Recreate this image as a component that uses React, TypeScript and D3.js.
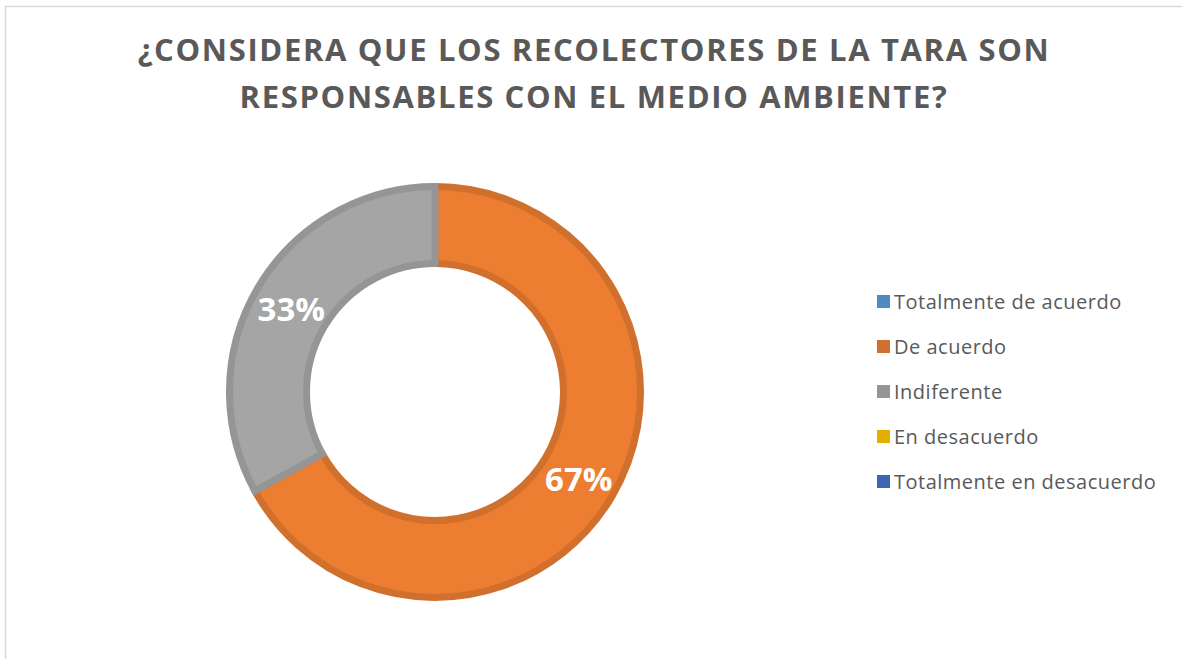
import React, { useEffect, useRef } from 'react';
import { select, pie, arc, scaleOrdinal, scalePoint } from 'd3';

// answers and share of respondents (%)
const categories = [
  'Totalmente de acuerdo',
  'De acuerdo',
  'Indiferente',
  'En desacuerdo',
  'Totalmente en desacuerdo',
];
const values = [0, 67, 33, 0, 0];
const fills = ['#5B9BD5', '#ED7D31', '#A5A5A5', '#FFC000', '#4472C4'];
const strokes = ['#4F8BC2', '#D0702C', '#959595', '#E6AE00', '#3E66B0'];
const titleLines = [
  '¿CONSIDERA QUE LOS RECOLECTORES DE LA TARA SON',
  'RESPONSABLES CON EL MEDIO AMBIENTE?',
];

const W = 1182;
const H = 659;
const FONT = "'Open Sans', 'DejaVu Sans', sans-serif";

const App = () => {
  const svgRef = useRef<SVGSVGElement>(null);

  useEffect(() => {
    const svg = select(svgRef.current);
    svg.selectAll('*').remove();

    svg.append('rect')
      .attr('x', 0).attr('y', 0).attr('width', W).attr('height', H)
      .attr('fill', '#fff');

    // chart frame
    svg.append('rect')
      .attr('x', 5.5).attr('y', 6.5)
      .attr('width', W + 20).attr('height', H + 20)
      .attr('fill', 'none')
      .attr('stroke', '#D9D9D9')
      .attr('stroke-width', 1.5);

    // title
    svg.append('g')
      .selectAll('text')
      .data(titleLines)
      .join('text')
      .attr('x', 594)
      .attr('y', (d, i) => 61 + i * 47)
      .attr('text-anchor', 'middle')
      .attr('font-family', FONT)
      .attr('font-weight', 700)
      .attr('font-size', 31)
      .attr('letter-spacing', 1.65)
      .attr('fill', '#595959')
      .text(d => d);

    const color = scaleOrdinal<string, string>().domain(categories).range(fills);
    const strokeColor = scaleOrdinal<string, string>().domain(categories).range(strokes);

    const cx = 435;
    const cy = 392;
    const outerR = 209;
    const innerR = 125;
    const sw = 7;

    const pieGen = pie<number>().sort(null).value(d => d);
    const arcs = pieGen(values);
    const arcGen = arc<any>()
      .innerRadius(innerR + sw / 2)
      .outerRadius(outerR - sw / 2);
    const labelArc = arc<any>().innerRadius(innerR).outerRadius(outerR);

    const g = svg.append('g').attr('transform', `translate(${cx},${cy})`);
    g.selectAll('path')
      .data(arcs.filter(a => a.value > 0))
      .join('path')
      .attr('d', arcGen)
      .attr('fill', d => color(categories[d.index]))
      .attr('stroke', d => strokeColor(categories[d.index]))
      .attr('stroke-width', sw)
      .attr('stroke-linejoin', 'miter');

    g.selectAll('text')
      .data(arcs.filter(a => a.value > 0))
      .join('text')
      .attr('transform', d => {
        const [x, y] = labelArc.centroid(d);
        return `translate(${x},${y + 2})`;
      })
      .attr('text-anchor', 'middle')
      .attr('dy', '0.36em')
      .attr('font-family', FONT)
      .attr('font-weight', 700)
      .attr('font-size', 33)
      .attr('fill', '#fff')
      .text(d => `${d.value}%`);

    // legend
    const rowY = scalePoint<string>().domain(categories).range([302, 482]);
    const leg = svg.append('g')
      .selectAll('g')
      .data(categories)
      .join('g')
      .attr('transform', d => `translate(877,${rowY(d)})`);
    leg.append('rect')
      .attr('x', 0).attr('y', -7)
      .attr('width', 13).attr('height', 13)
      .attr('fill', d => strokeColor(d));
    leg.append('text')
      .attr('x', 17)
      .attr('dy', '0.36em')
      .attr('font-family', FONT)
      .attr('font-size', 20)
      .attr('letter-spacing', 0.5)
      .attr('fill', '#595959')
      .text(d => d);
  }, []);

  return (
    <svg
      ref={svgRef}
      width={W}
      height={H}
      style={{ position: 'absolute', left: 0, top: 0, display: 'block' }}
    />
  );
};

export default App;
